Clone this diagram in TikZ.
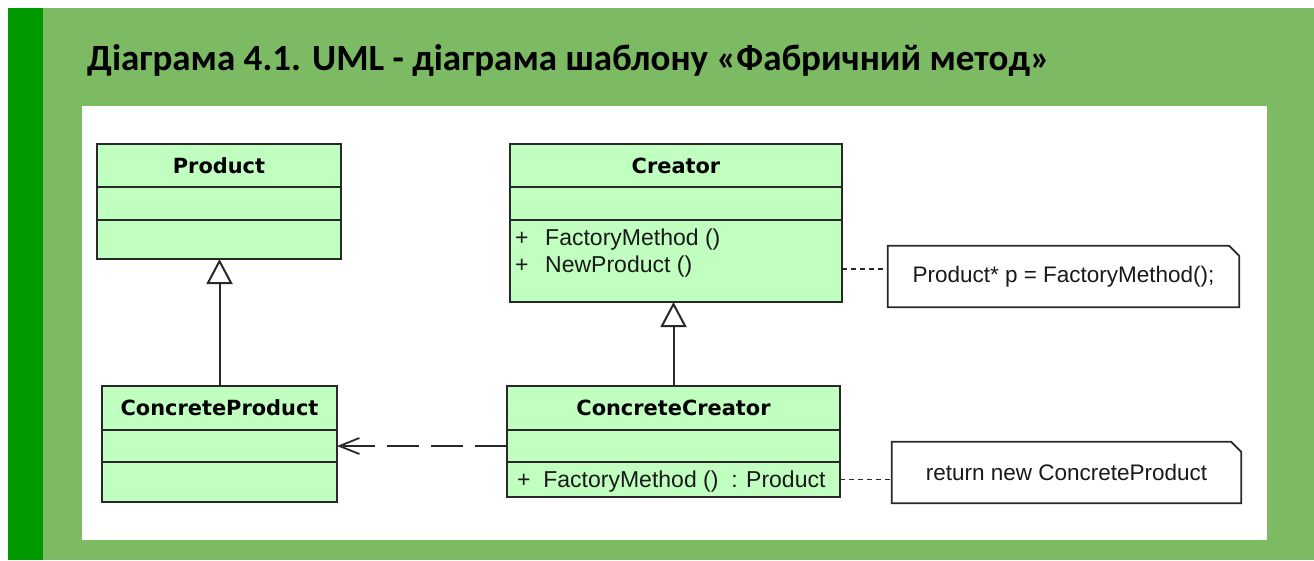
\documentclass[tikz,border=0pt]{standalone}
\usepackage{fontspec}
\setmainfont{Liberation Sans}
\newfontfamily\titlefont{Carlito}
\newfontfamily\namefont{DejaVu Sans}
\usepackage{tikz}
\usetikzlibrary{arrows.meta,calc,positioning}
\definecolor{stripgreen}{RGB}{0,153,0}
\definecolor{panelgreen}{RGB}{124,186,100}
\definecolor{classfill}{RGB}{192,255,192}
\definecolor{umlline}{RGB}{40,40,40}
\newdimen\hdim
\newdimen\adim
\hdim=43pt
\adim=33pt
\tikzstyle{classbox}=[
  draw=umlline,
  fill=classfill,
  inner sep=0pt,
  line width=1.8pt,
  outer sep=0pt,
  rectangle,
]
\tikzstyle{classname}=[
  classbox,
  font={\namefont\bfseries\fontsize{20.9}{24}\selectfont},
  minimum height=\hdim,
  text centered,
]
\tikzstyle{method}=[
  anchor=base west,
  font={\fontsize{23}{27}\selectfont},
  inner sep=0pt,
  text=black!90,
]
\tikzstyle{notebox}=[
  font={\fontsize{22.5}{27}\selectfont},
  inner sep=0pt,
  minimum height=61pt,
  text=black!90,
]
\tikzstyle{notepath}=[
  draw=umlline,
  fill=white,
  line width=1.8pt,
]
\tikzstyle{inherit}=[
  draw=umlline,
  line width=2pt,
  -{Triangle[fill=white, length=25pt, width=26pt]},
]
\tikzstyle{depend}=[
  draw=umlline,
  line width=1.8pt,
  dash pattern=on 32pt off 12pt,
  -{Straight Barb[length=20pt, width=16pt]},
]
\tikzstyle{noteline}=[
  draw=umlline,
  line width=1.5pt,
  dash pattern=on 5pt off 4pt,
]

\begin{document}
\begin{tikzpicture}[x=1pt, y=-1pt]
    \useasboundingbox (0,0) rectangle (1314,560);
    \fill [white] (0,0) rectangle (1314,560);
    \fill [panelgreen] (8,8) rectangle (1314,560);
    \fill [stripgreen] (8,8) rectangle (43,560);
    \fill [white] (82,106) rectangle (1267,540);
    \node (title) [anchor=base west, inner sep=0pt,
      font={\titlefont\bfseries\fontsize{37}{44}\selectfont}] at (87,70)
      {Діаграма 4.1. UML - діаграма шаблону «Фабричний метод»};
    %%
    \node (product) [classname, minimum width=244pt, anchor=north west] at (97,144) {Product};
    \node (productAttr) [classbox, minimum width=244pt, minimum height=\adim, below=0pt of product] {};
    \node (productOps) [classbox, minimum width=244pt, minimum height=39pt, below=0pt of productAttr] {};
    %%
    \node (creator) [classname, minimum width=332pt, anchor=north west] at (510,144) {Creator};
    \node (creatorAttr) [classbox, minimum width=332pt, minimum height=\adim, below=0pt of creator] {};
    \node (creatorOps) [classbox, minimum width=332pt, minimum height=82pt, below=0pt of creatorAttr] {};
    \node (creatorM1) [method] at ($(creatorOps.north west)+(5,25)$) {+~~\,FactoryMethod ()};
    \node (creatorM2) [method] at ($(creatorOps.north west)+(5,52)$) {+~~\,NewProduct ()};
    %%
    \node (cproduct) [classname, minimum width=235pt, minimum height=44pt, anchor=north west] at (102,386) {ConcreteProduct};
    \node (cproductAttr) [classbox, minimum width=235pt, minimum height=32pt, below=0pt of cproduct] {};
    \node (cproductOps) [classbox, minimum width=235pt, minimum height=40pt, below=0pt of cproductAttr] {};
    %%
    \node (ccreator) [classname, minimum width=333pt, minimum height=44pt, anchor=north west] at (507,386) {ConcreteCreator};
    \node (ccreatorAttr) [classbox, minimum width=333pt, minimum height=32pt, below=0pt of ccreator] {};
    \node (ccreatorOps) [classbox, minimum width=333pt, minimum height=35pt, below=0pt of ccreatorAttr] {};
    \node (ccreatorM1) [method] at ($(ccreatorOps.north west)+(10,25)$) {+~~FactoryMethod ()~~: Product};
    %%
    \node (note1) [notebox, minimum width=351pt] at (1063.5,276.5) {};
    \draw [notepath] (note1.north west) -- ($(note1.north east)-(10,0)$)
                     -- ($(note1.north east)+(0,10)$) -- (note1.south east)
                     -- (note1.south west) -- cycle;
    \node (note1text) [notebox] at (note1) {Product* p = FactoryMethod();};
    \node (note2) [notebox, minimum width=349pt] at (1066.5,472.5) {};
    \draw [notepath] (note2.north west) -- ($(note2.north east)-(10,0)$)
                     -- ($(note2.north east)+(0,10)$) -- (note2.south east)
                     -- (note2.south west) -- cycle;
    \node (note2text) [notebox] at (note2) {return new ConcreteProduct};
    %%
    \draw [inherit] (cproduct.north) -- (cproduct.north |- productOps.south);
    \draw [inherit] (ccreator.north) -- (ccreator.north |- creatorOps.south);
    \draw [depend] (ccreatorAttr.west) -- (cproductAttr.east);
    \draw [noteline] ([yshift=-8pt]creatorOps.east) -- ([yshift=7.5pt]note1.west);
    \draw [noteline] (ccreatorOps.east) -- (note2.west |- ccreatorOps.east);
\end{tikzpicture}
\end{document}
